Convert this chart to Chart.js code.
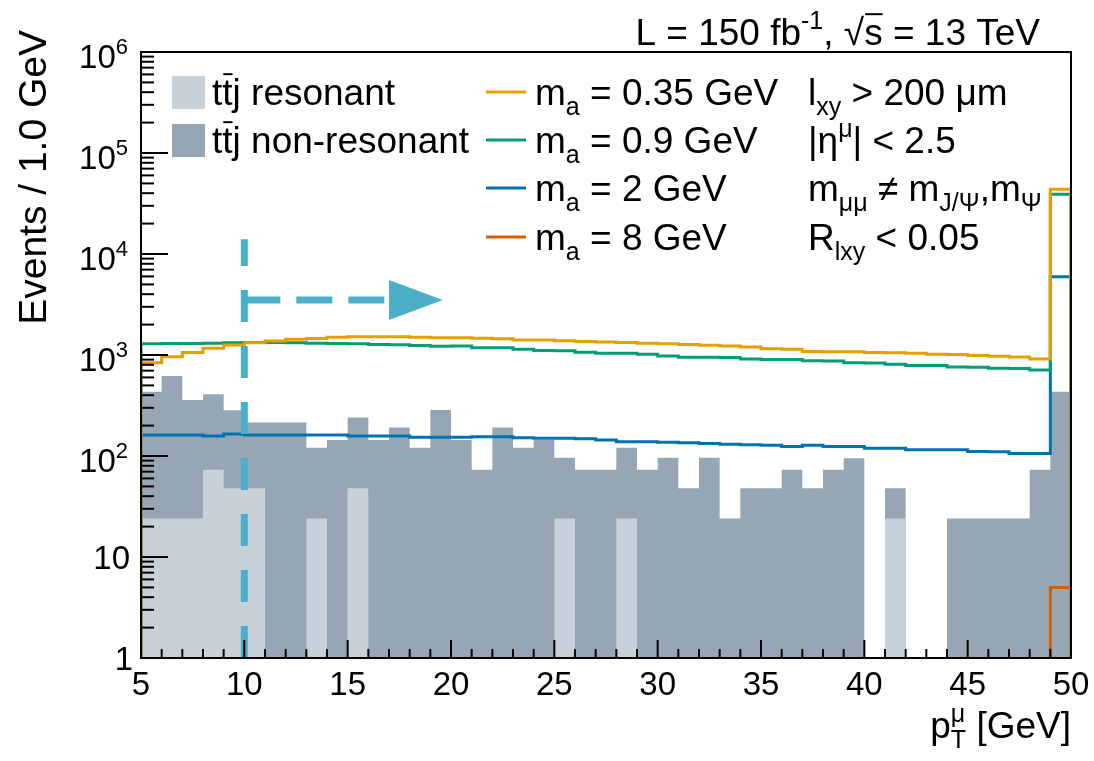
<!DOCTYPE html>
<html>
<head>
<meta charset="utf-8">
<script src="https://cdn.jsdelivr.net/npm/chart.js@4.4.0/dist/chart.umd.min.js"></script>
<style>
  body { margin: 0; background: #fff; }
  #wrap { width: 1094px; height: 761px; }
</style>
</head>
<body>
<div id="wrap"><canvas id="ptChart" width="1094" height="761"></canvas></div>
<script>
// lower edge of each 1 GeV bin, last one is the overflow bin
const binLow = [5, 6, 7, 8, 9, 10, 11, 12, 13, 14, 15, 16, 17, 18, 19, 20, 21, 22, 23, 24, 25, 26, 27,
                28, 29, 30, 31, 32, 33, 34, 35, 36, 37, 38, 39, 40, 41, 42, 43, 44, 45, 46, 47, 48, 49];

// backgrounds (stacked)
const resonant = [24, 24, 24, 73, 48, 48, 0, 0, 24, 0, 48, 0, 0, 0, 0, 0, 0, 0, 0, 0, 24, 0, 0,
                  24, 0, 0, 0, 0, 0, 0, 0, 0, 0, 0, 0, 0, 24, 0, 0, 0, 0, 0, 0, 0, 0];
const nonResonant = [409, 595, 334, 335, 236, 167, 215, 215, 97, 144, 192, 144, 192, 121, 285, 144, 73, 192, 121, 144, 72, 73, 73,
                     97, 73, 96, 48, 96, 24, 48, 48, 73, 48, 73, 95, 0, 24, 0, 0, 24, 24, 24, 24, 73, 433];

// signals
const sigM035 = [840, 960, 1060, 1165, 1255, 1320, 1375, 1430, 1460, 1495, 1515, 1520, 1520, 1500, 1480, 1480, 1465, 1445, 1410, 1405, 1385, 1360, 1345,
                 1330, 1310, 1290, 1270, 1250, 1230, 1200, 1150, 1140, 1080, 1075, 1075, 1060, 1055, 1040, 1020, 1010, 990, 970, 955, 915, 43700];
const sigM09 = [1290, 1300, 1300, 1310, 1320, 1330, 1330, 1320, 1310, 1300, 1290, 1270, 1260, 1240, 1220, 1225, 1180, 1180, 1140, 1105, 1100, 1065, 1040,
                1040, 1015, 975, 950, 950, 945, 915, 900, 905, 875, 870, 840, 835, 810, 785, 785, 760, 755, 740, 735, 712, 39000];
const sigM2 = [161, 161, 161, 158, 165, 161, 161, 161, 161, 161, 158, 158, 158, 153, 153, 153, 155, 155, 152, 150, 150, 148, 144,
               138, 138, 137, 135, 133, 131, 129, 128, 124, 128, 124, 124, 119, 119, 115, 115, 115, 111, 110, 106, 106, 5960];
const sigM8 = [0, 0, 0, 0, 0, 0, 0, 0, 0, 0, 0, 0, 0, 0, 0, 0, 0, 0, 0, 0, 0, 0, 0,
               0, 0, 0, 0, 0, 0, 0, 0, 0, 0, 0, 0, 0, 0, 0, 0, 0, 0, 0, 0, 0, 5];

const xTicks = [5, 10, 15, 20, 25, 30, 35, 40, 45, 50];
const yExponents = [0, 1, 2, 3, 4, 5, 6];

// cut markers (pT > 10 GeV arrow)
const cutX = 10, cutTop = 14000, arrowY = 3500, arrowEnd = 17.1, arrowTip = 19.6;

const FONT = '"Liberation Sans", Arial, Helvetica, sans-serif';
const FLOOR = 0.1; // empty bins sit below the axis minimum

// turn bin contents into a step outline (rise at first edge, drop at last edge)
function histPoints(values) {
    const v = y => (y > 0 ? y : FLOOR);
    const last = binLow.length - 1;
    const hi = binLow[last] + 1;
    const pts = [{ x: binLow[0], y: FLOOR }];
    binLow.forEach((x, i) => pts.push({ x: x, y: v(values[i]) }));
    pts.push({ x: hi, y: v(values[last]) });
    pts.push({ x: hi, y: FLOOR });
    return pts;
}

const total = resonant.map((r, i) => r + nonResonant[i]);

function lineSet(label, values, color) {
    return { label: label, data: histPoints(values), borderColor: color, borderWidth: 3,
             stepped: 'before', fill: false, pointRadius: 0, borderJoinStyle: 'miter' };
}

// --- rich text helpers (sub/superscripts, overbars, stacked sub+sup) ---
const small = size => Math.round(size * 0.68) + 'px ' + FONT;
function segWidth(ctx, s, size) {
    ctx.font = s.m ? small(size) : size + 'px ' + FONT;
    let w = ctx.measureText(s.t).width;
    if (s.up) w = Math.max(w, ctx.measureText(s.up).width);
    return w;
}
function drawRich(ctx, segs, x, y, size, align) {
    let w = 0;
    segs.forEach(s => { w += segWidth(ctx, s, size); });
    let cx = align === 'right' ? x - w : x;
    ctx.textAlign = 'left';
    ctx.textBaseline = 'alphabetic';
    segs.forEach(s => {
        const sw = segWidth(ctx, s, size);
        ctx.font = s.m ? small(size) : size + 'px ' + FONT;
        let dy = 0;
        if (s.m === 'sub') dy = size * 0.28;
        if (s.m === 'sup') dy = -size * 0.42;
        ctx.fillText(s.t, cx, y + dy);
        if (s.up) ctx.fillText(s.up, cx, y - size * 0.42);
        if (s.bar) ctx.fillRect(cx + 1, y - size * 0.86, sw - 1, 2);
        cx += sw;
    });
}

const legendBoxes = [
    { segs: [{ t: 't' }, { t: 't', bar: true }, { t: 'j resonant' }], color: '#c7d1d9' },
    { segs: [{ t: 't' }, { t: 't', bar: true }, { t: 'j non-resonant' }], color: '#96a6b4' }
];
const legendLines = [
    { segs: [{ t: 'm' }, { t: 'a', m: 'sub' }, { t: ' = 0.35 GeV' }], color: '#e69f00' },
    { segs: [{ t: 'm' }, { t: 'a', m: 'sub' }, { t: ' = 0.9 GeV' }], color: '#009e73' },
    { segs: [{ t: 'm' }, { t: 'a', m: 'sub' }, { t: ' = 2 GeV' }], color: '#0072b2' },
    { segs: [{ t: 'm' }, { t: 'a', m: 'sub' }, { t: ' = 8 GeV' }], color: '#d55e00' }
];
const cutLines = [
    [{ t: 'l' }, { t: 'xy', m: 'sub' }, { t: ' > 200 \u03bcm' }],
    [{ t: '|\u03b7' }, { t: '\u03bc', m: 'sup' }, { t: '| < 2.5' }],
    [{ t: 'm' }, { t: '\u03bc\u03bc', m: 'sub' }, { t: ' \u2260 m' }, { t: 'J/\u03a8', m: 'sub' }, { t: ',m' }, { t: '\u03a8', m: 'sub' }],
    [{ t: 'R' }, { t: 'lxy', m: 'sub' }, { t: ' < 0.05' }]
];

const decorations = {
    id: 'decorations',
    afterDatasetsDraw(chart) {
        const ctx = chart.ctx;
        const xs = chart.scales.x, ys = chart.scales.y;
        const a = chart.chartArea;
        ctx.save();

        // cut marker: vertical dashed line + dashed arrow
        ctx.strokeStyle = '#4bafc9';
        ctx.fillStyle = '#4bafc9';
        ctx.lineWidth = 7;
        ctx.setLineDash([32, 24]);
        ctx.beginPath();
        ctx.moveTo(xs.getPixelForValue(cutX), a.bottom);
        ctx.lineTo(xs.getPixelForValue(cutX), ys.getPixelForValue(cutTop));
        ctx.stroke();
        ctx.setLineDash([36, 16]);
        const ay = ys.getPixelForValue(arrowY);
        ctx.beginPath();
        ctx.moveTo(xs.getPixelForValue(cutX), ay);
        ctx.lineTo(xs.getPixelForValue(arrowEnd), ay);
        ctx.stroke();
        ctx.setLineDash([]);
        ctx.beginPath();
        ctx.moveTo(xs.getPixelForValue(arrowEnd) - 2, ay - 20);
        ctx.lineTo(xs.getPixelForValue(arrowTip), ay);
        ctx.lineTo(xs.getPixelForValue(arrowEnd) - 2, ay + 20);
        ctx.closePath();
        ctx.fill();

        // frame
        ctx.strokeStyle = '#000';
        ctx.fillStyle = '#000';
        ctx.lineWidth = 2;
        ctx.strokeRect(a.left, a.top, a.right - a.left, a.bottom - a.top);

        // x ticks (inside)
        for (let v = xs.min; v <= xs.max; v += 1) {
            const px = xs.getPixelForValue(v);
            const len = v % 5 === 0 ? 18 : 9;
            ctx.beginPath();
            ctx.moveTo(px, a.bottom);
            ctx.lineTo(px, a.bottom - len);
            ctx.stroke();
        }
        // y ticks (inside)
        yExponents.forEach(e => {
            if (e === 6) return;
            for (let k = 1; k <= 9; k++) {
                const py = ys.getPixelForValue(k * Math.pow(10, e));
                ctx.beginPath();
                ctx.moveTo(a.left, py);
                ctx.lineTo(a.left + (k === 1 ? 27 : 13), py);
                ctx.stroke();
            }
        });

        // x tick labels
        ctx.font = '33px ' + FONT;
        ctx.textAlign = 'center';
        ctx.textBaseline = 'alphabetic';
        xTicks.forEach(t => ctx.fillText(String(t), xs.getPixelForValue(t), a.bottom + 37));

        // y tick labels
        yExponents.forEach(e => {
            const py = ys.getPixelForValue(Math.pow(10, e));
            if (e === 0) drawRich(ctx, [{ t: '1' }], 133, py + 12, 33, 'right');
            else if (e === 1) drawRich(ctx, [{ t: '10' }], 130, py + 12, 33, 'right');
            else drawRich(ctx, [{ t: '10' }, { t: String(e), m: 'sup' }], 128, py + 16, 33, 'right');
        });

        // axis titles
        drawRich(ctx, [{ t: 'p' }, { t: 'T', m: 'sub', up: '\u03bc' }, { t: ' [GeV]' }], a.right, 738, 37, 'right');
        ctx.save();
        ctx.translate(35, 30);
        ctx.rotate(-Math.PI / 2);
        ctx.font = '39px ' + FONT;
        ctx.textAlign = 'right';
        ctx.textBaseline = 'middle';
        ctx.fillText('Events / 1.0 GeV', 0, 0);
        ctx.restore();

        // lumi label
        drawRich(ctx, [{ t: 'L = 150 fb' }, { t: '-1', m: 'sup' }, { t: ', \u221a' }, { t: 's', bar: true }, { t: ' = 13 TeV' }], 1040, 45, 37, 'right');

        // legend
        const rowY = [92, 140, 188, 237];
        legendBoxes.forEach((b, i) => {
            ctx.fillStyle = b.color;
            ctx.fillRect(172, rowY[i] - 16, 33, 33);
            ctx.fillStyle = '#000';
            drawRich(ctx, b.segs, 212, rowY[i] + 13, 37, 'left');
        });
        legendLines.forEach((l, i) => {
            ctx.strokeStyle = l.color;
            ctx.lineWidth = 3;
            ctx.beginPath();
            ctx.moveTo(486, rowY[i]);
            ctx.lineTo(526, rowY[i]);
            ctx.stroke();
            ctx.fillStyle = '#000';
            drawRich(ctx, l.segs, 535, rowY[i] + 13, 37, 'left');
        });
        cutLines.forEach((segs, i) => drawRich(ctx, segs, 808, rowY[i] + 13, 37, 'left'));

        ctx.restore();
    }
};

new Chart(document.getElementById('ptChart'), {
    type: 'line',
    data: {
        datasets: [
            lineSet('m_a = 0.35 GeV', sigM035, '#e69f00'),
            lineSet('m_a = 0.9 GeV', sigM09, '#009e73'),
            lineSet('m_a = 2 GeV', sigM2, '#0072b2'),
            lineSet('m_a = 8 GeV', sigM8, '#d55e00'),
            { label: 'ttj resonant', data: histPoints(resonant), borderWidth: 0, borderColor: 'rgba(0,0,0,0)',
              backgroundColor: '#c7d1d9', fill: 'start', stepped: 'before', pointRadius: 0 },
            { label: 'ttj non-resonant', data: histPoints(total), borderWidth: 0, borderColor: 'rgba(0,0,0,0)',
              backgroundColor: '#96a6b4', fill: 'start', stepped: 'before', pointRadius: 0 }
        ]
    },
    options: {
        responsive: false,
        animation: false,
        layout: { padding: { left: 141, top: 52, right: 23, bottom: 103 } },
        scales: {
            x: { type: 'linear', min: 5, max: 50, display: false },
            y: { type: 'logarithmic', min: 1, max: 1e6, display: false }
        },
        plugins: { legend: { display: false }, tooltip: { enabled: false } }
    },
    plugins: [decorations]
});
</script>
</body>
</html>
